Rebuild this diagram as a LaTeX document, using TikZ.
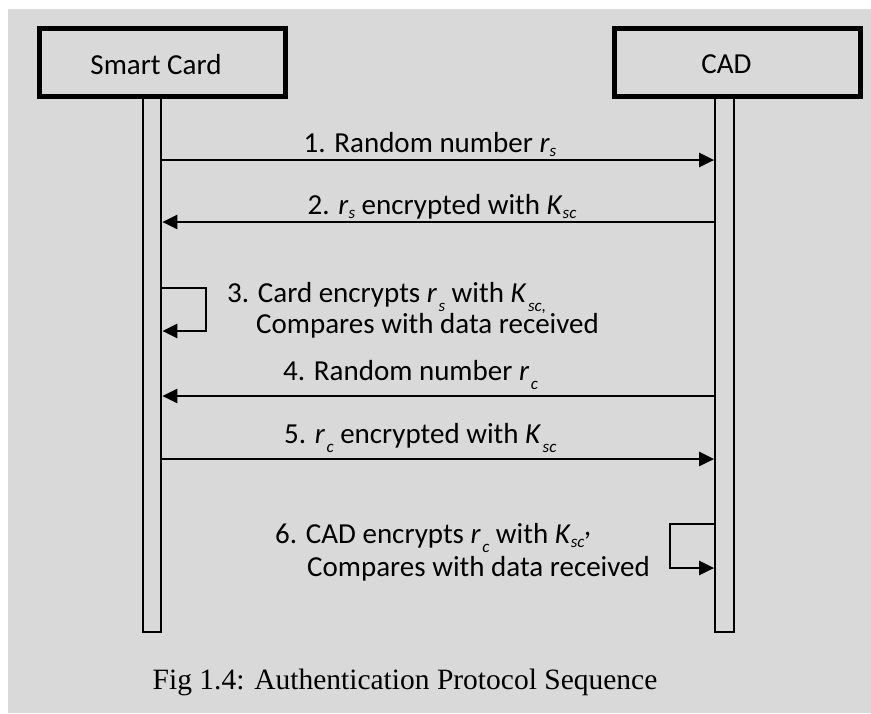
\documentclass[tikz,border=0pt]{standalone}
\usepackage{fontspec}
\setmainfont{Carlito}
\newfontfamily\capfont{Liberation Serif}
\usetikzlibrary{arrows.meta}
\definecolor{panel}{HTML}{D9D9D9}
% lowered italic subscript, as set in steps 3 to 6
\newcommand\sublow[1]{\kern1.5pt\raisebox{-9.5pt}[0pt][0pt]{\fontsize{17}{17}\selectfont\itshape #1}}
% ordinary italic subscript
\newcommand\subn[1]{\raisebox{-4pt}[0pt][0pt]{\fontsize{17}{17}\selectfont\itshape #1}}

\begin{document}
\begin{tikzpicture}[x=1pt,y=-1pt,
  every node/.style={font=\fontsize{29}{32}\selectfont, inner sep=0pt},
  actor/.style={draw, line width=5pt, minimum width=246pt, minimum height=68pt},
  lifeline/.style={draw, line width=2.2pt, minimum width=18.5pt, minimum height=534pt, anchor=north},
  msg/.style={line width=2.5pt, -{Triangle[length=15pt,width=14pt]}},
  note/.style={anchor=base west},
]
% page and grey panel
\fill[white] (0,0) rectangle (871,713);
\fill[panel] (8,9) rectangle (871,713);
\useasboundingbox (0,0) rectangle (871,713);

% lifelines
\node[lifeline] (scl) at (152,96.5) {};
\node[lifeline] (cadl) at (724.5,96.5) {};

% participants
\node[actor] (sc) at (162.5,62.5) {};
\node[anchor=base] (scname) at (156,74) {Smart Card};
\node[actor] (cad) at (737,62.5) {};
\node[anchor=base] (cadname) at (726.5,73) {CAD};

% messages
\draw[msg] (scl.east |- 0,160) -- (cadl.west |- 0,160);
\draw[msg] (cadl.west |- 0,222) -- (scl.east |- 0,222);
\draw[msg] (scl.east |- 0,288) -- (206,288) -- (206,331) -- (scl.east |- 0,331);
\draw[msg] (cadl.west |- 0,396) -- (scl.east |- 0,396);
\draw[msg] (scl.east |- 0,459) -- (cadl.west |- 0,459);
\draw[msg] (cadl.west |- 0,524) -- (670,524) -- (670,568) -- (cadl.west |- 0,568);

% message texts
\node[anchor=base] (m1) at (430,152) {1. Random number \textit{r}\subn{s}};
\node[anchor=base] (m2) at (442,214) {2. \textit{r}\subn{s} encrypted with \textit{K}\subn{sc}};
\node[note] (m3a) at (227,302) {3. Card encrypts \textit{r}\sublow{s} with \textit{K}\sublow{sc,}};
\node[note] (m3b) at (256,333) {Compares with data received};
\node[note] (m4) at (283,380) {4. Random number \textit{r}\sublow{c}};
\node[note] (m5) at (284,443) {5. \textit{r}\sublow{c} encrypted with \textit{K}\sublow{sc}};
\node[note] (m6a) at (275,543) {6. CAD encrypts \textit{r}\sublow{c} with \textit{K}\subn{sc}\raisebox{8pt}[0pt][0pt]{\textit{,}}};
\node[note] (m6b) at (307,576) {Compares with data received};

% caption
\node[anchor=base, font=\capfont\fontsize{29.5}{32}\selectfont] (cap) at (405,689) {Fig 1.4: Authentication Protocol Sequence};
\end{tikzpicture}
\end{document}
